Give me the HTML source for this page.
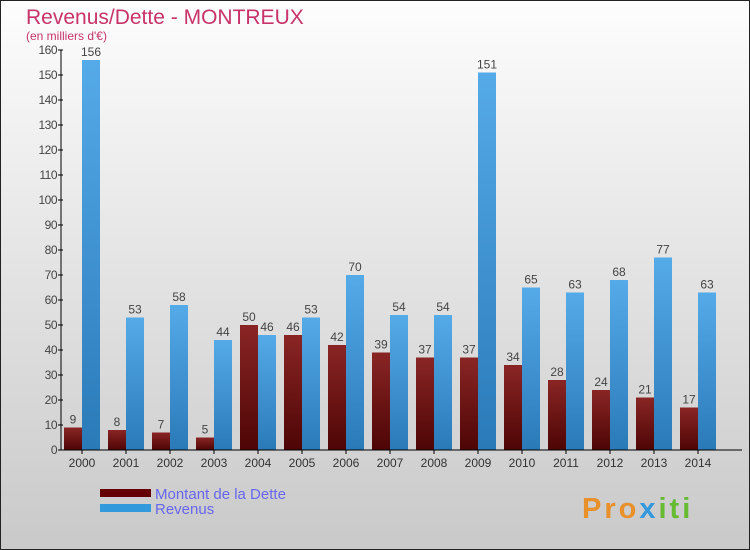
<!DOCTYPE html>
<html><head><meta charset="utf-8"><style>
body{margin:0}
#c{width:750px;height:550px;position:relative;overflow:hidden;box-sizing:border-box;border:1px solid #222;background:linear-gradient(#fdfdfd,#c9c9c9);font-family:"Liberation Sans",sans-serif}
</style></head><body>
<div id="c">
<svg id="s" width="750" height="550" style="position:absolute;left:-1px;top:-1px">
<defs>
<linearGradient id="gd" x1="0" y1="0" x2="0" y2="1"><stop offset="0" stop-color="#8a2525"/><stop offset="1" stop-color="#4e0505"/></linearGradient>
<linearGradient id="gr" x1="0" y1="0" x2="0" y2="1"><stop offset="0" stop-color="#55aae8"/><stop offset="1" stop-color="#2a7ab8"/></linearGradient>
</defs>
<text x="26" y="24" font-size="21" fill="#c8336a">Revenus/Dette - MONTREUX</text>
<text x="26" y="40" font-size="12" fill="#c8336a">(en milliers d'€)</text>
<g id="bars"></g>
<g id="axes"></g>
<rect x="100" y="489" width="51" height="8" fill="#660000"/>
<rect x="100" y="504" width="51" height="8" fill="#3399dd"/>
<text x="155" y="499" font-size="15" fill="#6666ee">Montant de la Dette</text>
<text x="155" y="514" font-size="15" fill="#6666ee">Revenus</text>
<text x="582" y="518" font-size="29" font-weight="bold" letter-spacing="3" fill="#e8902a">Pro<tspan fill="#3399dd">x</tspan><tspan fill="#66bb33">iti</tspan></text>
</svg>
</div>
<script>
const years=["2000","2001","2002","2003","2004","2005","2006","2007","2008","2009","2010","2011","2012","2013","2014"];
const dette=[9,8,7,5,50,46,42,39,37,37,34,28,24,21,17];
const revenus=[156,53,58,44,46,53,70,54,54,151,65,63,68,77,63];
const yTicks=[0,10,20,30,40,50,60,70,80,90,100,110,120,130,140,150,160];
const NS="http://www.w3.org/2000/svg";
const y=v=>450-v*2.5;
const x=i=>64+i*44;
function mk(t,a,p){const e=document.createElementNS(NS,t);for(const k in a)e.setAttribute(k,a[k]);p.appendChild(e);return e;}
const B=document.getElementById('bars'),A=document.getElementById('axes');
years.forEach((yr,i)=>{
 let r=mk('rect',{x:x(i),y:y(dette[i]),width:18,height:dette[i]*2.5,fill:'url(#gd)'},B);
 
 
 let r2=mk('rect',{x:x(i)+18,y:y(revenus[i]),width:18,height:revenus[i]*2.5,fill:'url(#gr)'},B);
 
 
 let t=mk('text',{x:x(i)+9,y:y(dette[i])-4,'font-size':12,fill:'#444','text-anchor':'middle'},B);t.textContent=dette[i];
 
 
 let t2=mk('text',{x:x(i)+27,y:y(revenus[i])-4,'font-size':12,fill:'#444','text-anchor':'middle'},B);t2.textContent=revenus[i];
 
 
 let l=mk('text',{x:x(i)+18,y:467,'font-size':12,fill:'#333','text-anchor':'middle'},A);l.textContent=yr;
 
 
 mk('line',{x1:x(i)+18,x2:x(i)+18,y1:450,y2:454,stroke:'#000'},A);
});
mk('line',{x1:61,x2:61,y1:50,y2:450,stroke:'#000'},A);
mk('line',{x1:61,x2:742,y1:450,y2:450,stroke:'#000'},A);
yTicks.forEach(v=>{
 mk('line',{x1:58,x2:63,y1:y(v),y2:y(v),stroke:'#000'},A);
 let t=mk('text',{x:57,y:y(v)+4,'font-size':12,fill:'#444','text-anchor':'end','letter-spacing':'-0.5'},A);t.textContent=v;
 
 
});
</script>
</body></html>
